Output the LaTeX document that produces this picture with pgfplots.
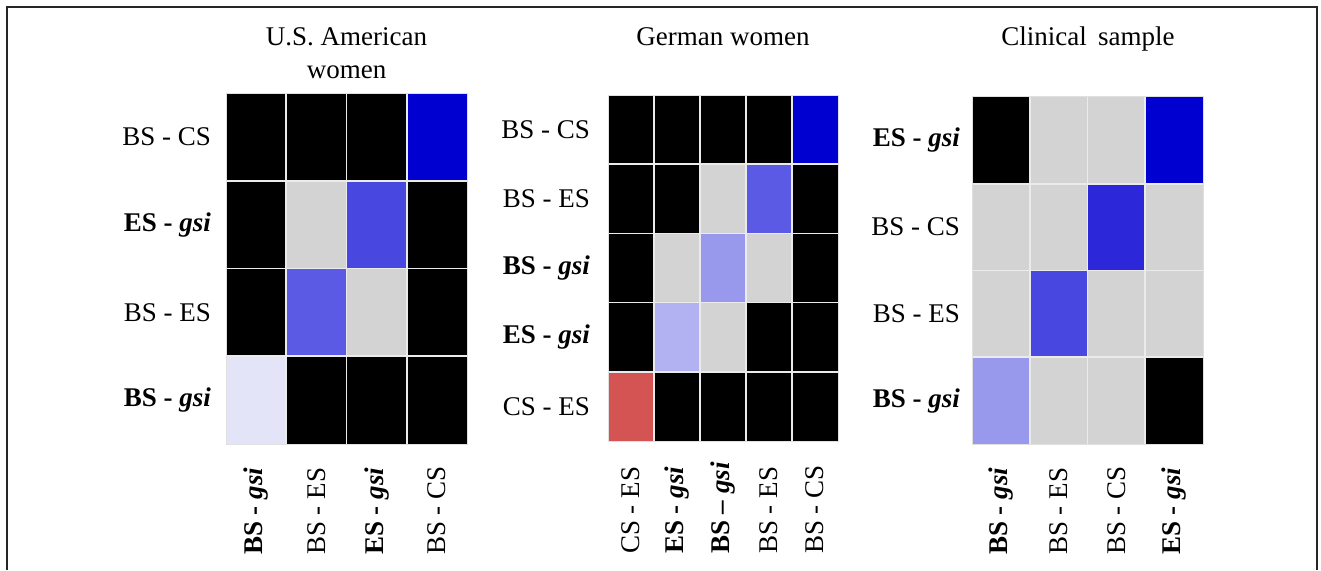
\documentclass[border=0pt]{standalone}
\usepackage{fontspec}
\setmainfont{Liberation Serif}
\usepackage{pgfplots}
\pgfplotsset{compat=1.18}
\pgfplotsset{
  hm/.style={
    scale only axis, enlargelimits=false,
    colormap={hm}{rgb255=(0,0,0) rgb255=(211,211,211) rgb255=(0,0,208) rgb255=(44,40,218) rgb255=(72,72,224) rgb255=(90,90,228) rgb255=(152,152,236) rgb255=(178,178,242) rgb255=(228,228,248) rgb255=(212,84,84)},
    colormap access=direct,
    major tick length=0pt, minor tick length=0pt,
    axis line style={draw=black!12, line width=1pt},
    xminorgrids, yminorgrids,
    minor grid style={draw=white!92!black, line width=1.6pt},
    axis on top,
    tick label style={font=\fontsize{27}{32}\selectfont, inner sep=0pt},
    xticklabel style={rotate=90, anchor=west},
    xticklabel shift=111pt,
    yticklabel style={anchor=east},
  },
}
\newcommand{\bg}[1]{\textbf{#1 - \textit{gsi}}}
\begin{document}
\begin{tikzpicture}
\useasboundingbox (0,0) rectangle (1321pt,570pt);
\draw[line width=2pt, black!85] (6.7pt,0pt) -- (6.7pt,563.3pt) -- (1316.5pt,563.3pt) -- (1316.5pt,0pt);

% Panel 1
\begin{axis}[hm, at={(226pt,126pt)}, anchor=south west, width=241pt, height=351pt,
  xmin=-0.5, xmax=3.5, ymin=-0.5, ymax=3.5,
  xtick={0,1,2,3}, ytick={0,1,2,3},
  minor xtick={0.5,1.5,2.5}, minor ytick={0.5,1.5,2.5},
  xticklabels={\bg{BS}, BS - ES, \bg{ES}, BS - CS},
  yticklabels={\bg{BS}, BS - ES, \bg{ES}, BS - CS},
  yticklabel shift=15pt]
\addplot[matrix plot*, mesh/cols=4, point meta=explicit] table[meta=c] {
x y c
0 0 8
1 0 0
2 0 0
3 0 0
0 1 0
1 1 5
2 1 1
3 1 0
0 2 0
1 2 1
2 2 4
3 2 0
0 3 0
1 3 0
2 3 0
3 3 2
};
\end{axis}
\node[font=\fontsize{27}{33}\selectfont, align=center, anchor=base] at (346.5pt,491pt) {U.S. American\\women};

% Panel 2
\begin{axis}[hm, at={(608pt,129pt)}, anchor=south west, width=230pt, height=346pt,
  xmin=-0.5, xmax=4.5, ymin=-0.5, ymax=4.5,
  xtick={0,1,2,3,4}, ytick={0,1,2,3,4},
  minor xtick={0.5,1.5,2.5,3.5}, minor ytick={0.5,1.5,2.5,3.5},
  xticklabels={CS - ES, \bg{ES}, \textbf{BS \textendash{} \textit{gsi}}, BS - ES, BS - CS},
  yticklabels={CS - ES, \bg{ES}, \bg{BS}, BS - ES, BS - CS},
  xticklabel shift=113pt,
  yticklabel shift=18pt]
\addplot[matrix plot*, mesh/cols=5, point meta=explicit] table[meta=c] {
x y c
0 0 9
1 0 0
2 0 0
3 0 0
4 0 0
0 1 0
1 1 7
2 1 1
3 1 0
4 1 0
0 2 0
1 2 1
2 2 6
3 2 1
4 2 0
0 3 0
1 3 0
2 3 1
3 3 5
4 3 0
0 4 0
1 4 0
2 4 0
3 4 0
4 4 2
};
\end{axis}
\node[font=\fontsize{27}{33}\selectfont, anchor=base] at (723pt,524pt) {German women};

% Panel 3
\begin{axis}[hm, at={(972pt,126pt)}, anchor=south west, width=231pt, height=347pt,
  xmin=-0.5, xmax=3.5, ymin=-0.5, ymax=3.5,
  xtick={0,1,2,3}, ytick={0,1,2,3},
  minor xtick={0.5,1.5,2.5}, minor ytick={0.5,1.5,2.5},
  xticklabels={\bg{BS}, BS - ES, BS - CS, \bg{ES}},
  yticklabels={\bg{BS}, BS - ES, BS - CS, \bg{ES}},
  yticklabel shift=12pt]
\addplot[matrix plot*, mesh/cols=4, point meta=explicit] table[meta=c] {
x y c
0 0 6
1 0 1
2 0 1
3 0 0
0 1 1
1 1 4
2 1 1
3 1 1
0 2 1
1 2 1
2 2 3
3 2 1
0 3 0
1 3 1
2 3 1
3 3 2
};
\end{axis}
\node[font=\fontsize{27}{33}\selectfont, anchor=base] at (1088pt,524pt) {Clinical\, sample};
\end{tikzpicture}
\end{document}
